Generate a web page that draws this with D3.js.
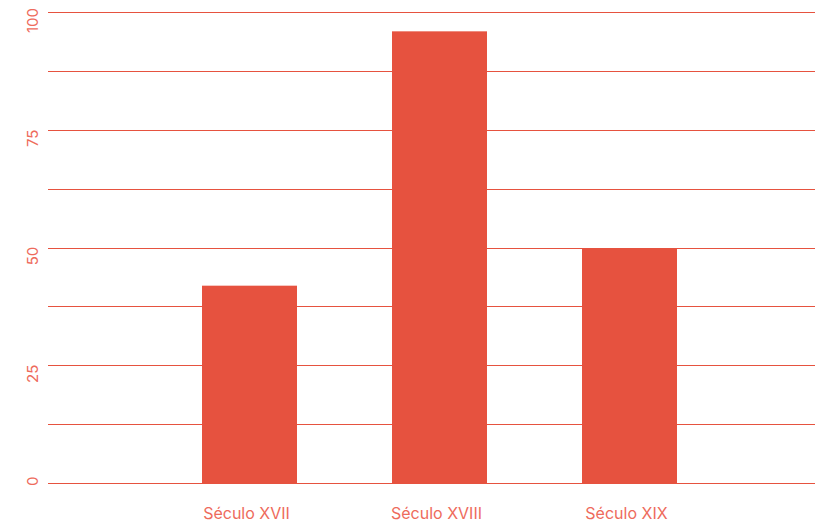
<!DOCTYPE html>
<html>
<head>
<meta charset="utf-8">
<script src="https://cdn.jsdelivr.net/npm/d3@7"></script>
<style>
  body { margin: 0; background: #fff; }
  text { font-family: Inter, "Noto Sans", sans-serif; }
</style>
</head>
<body>
<svg></svg>
<script>
var categories = ["Século XVII", "Século XVIII", "Século XIX"];
var values = [42, 96, 50];
var gridTicks = [0, 12.5, 25, 37.5, 50, 62.5, 75, 87.5, 100];
var labelTicks = [0, 25, 50, 75, 100];

var width = 816, height = 521;
var plotLeft = 48, plotTop = 12.5, plotBottom = 483.5;
var red = "#e6523f";

var svg = d3.select("svg").attr("width", width).attr("height", height);

var x = d3.scaleBand().domain(categories).range([107, 772]).paddingInner(0.5).paddingOuter(0.5);
var y = d3.scaleLinear().domain([0, 100]).range([plotBottom, plotTop]);

// grid
svg.append("g").selectAll("line").data(gridTicks).enter().append("line")
  .attr("x1", plotLeft).attr("x2", 815)
  .attr("y1", d => Math.floor(y(d)) + 0.5).attr("y2", d => Math.floor(y(d)) + 0.5)
  .attr("stroke", red).attr("stroke-width", 1);

// bars
svg.append("g").selectAll("rect").data(values).enter().append("rect")
  .attr("x", (d, i) => x(categories[i]))
  .attr("width", x.bandwidth())
  .attr("y", d => y(d))
  .attr("height", d => y(0) - y(d) + 0.5)
  .attr("fill", red);

// y labels (kept inside the plot at the bottom)
svg.append("g").selectAll("text").data(labelTicks).enter().append("text")
  .attr("text-anchor", "middle")
  .attr("fill", "#ee6b5c")
  .attr("font-size", 15)
  .text(d => d)
  .attr("transform", function(d) {
    var half = this.getComputedTextLength() / 2;
    var cy = Math.min(y(d) + 8, plotBottom + 2.5 - half);
    return "translate(38," + cy + ") rotate(-90)";
  });

// x labels
svg.append("g").selectAll("text").data(categories).enter().append("text")
  .attr("x", d => x(d) + x.bandwidth() / 2 - 3)
  .attr("y", 519)
  .attr("text-anchor", "middle")
  .attr("fill", "#ee6b5c")
  .attr("font-size", 16)
  .text(d => d);
</script>
</body>
</html>
